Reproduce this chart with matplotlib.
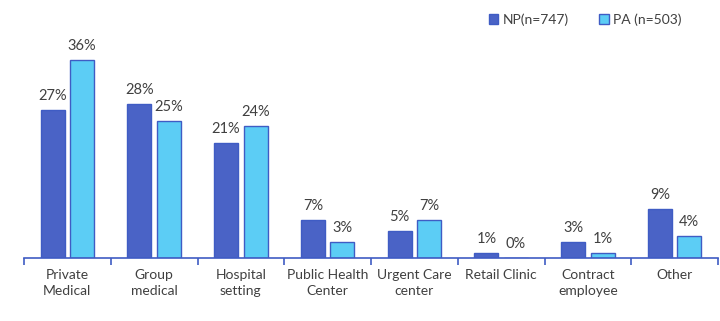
import matplotlib
matplotlib.use("Agg")
import matplotlib.pyplot as plt
import numpy as np

categories = ["Private\nMedical", "Group\nmedical", "Hospital\nsetting", "Public Health\nCenter",
              "Urgent Care\ncenter", "Retail Clinic", "Contract\nemployee", "Other"]
np_values = [27, 28, 21, 7, 5, 1, 3, 9]
pa_values = [36, 25, 24, 3, 7, 0, 1, 4]
series_names = ["NP(n=747)", "PA (n=503)"]

np_color = "#4a63c6"
pa_color = "#5ccdf5"
edge_color = "#3f5cc4"
text_color = "#404040"

plt.rcParams["font.family"] = ["Lato", "DejaVu Sans"]

fig = plt.figure(figsize=(7.2, 3.21), dpi=100)
ax = fig.add_axes([24 / 720, 63 / 321, 694 / 720, 220 / 321])

x = np.arange(len(categories))
w = 0.275
off = 0.17
b1 = ax.bar(x - off, np_values, w, color=np_color, edgecolor=edge_color, linewidth=1.0,
            label=series_names[0])
b2 = ax.bar(x + off, pa_values, w, color=pa_color, edgecolor=edge_color, linewidth=1.0,
            label=series_names[1])

for bars, vals in ((b1, np_values), (b2, pa_values)):
    for r, v in zip(bars, vals):
        ax.annotate(f"{v}%", (r.get_x() + r.get_width() / 2, v), xytext=(0, 5),
                    textcoords="offset points", ha="center", va="bottom",
                    fontsize=10.5, color=text_color)

ax.set_xlim(-0.5, len(categories) - 0.5)
ax.set_ylim(0, 40)
ax.set_yticks([])
for s in ("top", "right", "left"):
    ax.spines[s].set_visible(False)
ax.spines["bottom"].set_color(edge_color)
ax.spines["bottom"].set_linewidth(1.2)

ax.set_xticks(x)
ax.set_xticklabels(categories, fontsize=10, color=text_color, linespacing=1.4)
ax.tick_params(axis="x", length=0, pad=8)
ax.set_xticks(np.arange(len(categories) + 1) - 0.5, minor=True)
ax.tick_params(axis="x", which="minor", length=5, width=1.2, color=edge_color, direction="out")

leg = ax.legend(loc="upper left", bbox_to_anchor=(452 / 694, 1.17), ncol=2, frameon=False,
                fontsize=10, handlelength=0.7, handleheight=0.7, handletextpad=0.3,
                columnspacing=2.2)
for t in leg.get_texts():
    t.set_color(text_color)

fig.savefig("out.png", dpi=100)
